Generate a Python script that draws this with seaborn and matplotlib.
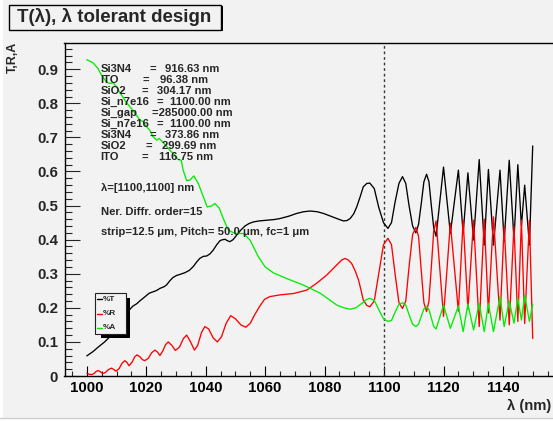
import matplotlib
matplotlib.use('Agg')
import matplotlib.pyplot as plt
import seaborn as sns
from matplotlib.patches import Rectangle
from matplotlib.lines import Line2D
from matplotlib.ticker import MultipleLocator, FuncFormatter

# ---------------- data ----------------
lam_T = [1000, 1002, 1004, 1006, 1007.5, 1009, 1011, 1012.5, 1013.9, 1015.5, 1016.8, 1017.8,
         1019.5, 1021, 1022.3, 1023.5, 1024.6, 1026, 1026.8, 1028, 1029, 1030.2, 1031.3, 1032.3,
         1033, 1034.5, 1035.8, 1037, 1038, 1039.2, 1040.3, 1041.4, 1042.5, 1043.7, 1044.8,
         1045.7, 1046.5, 1047.3, 1048.1, 1049.2, 1050.4, 1051.8, 1053.2, 1054.5, 1056, 1058,
         1060.5, 1063, 1065, 1068, 1070.6, 1073, 1075.1, 1077.5, 1079.6, 1082, 1084.1, 1086.3,
         1087.5, 1088.6, 1089.8, 1090.8, 1092, 1093, 1094.2, 1095.2, 1096.7, 1098.2, 1099.8,
         1101.3, 1102.5, 1103.7, 1105, 1106.2, 1107.3, 1108.4, 1109.6, 1110.7, 1111.6, 1112.5,
         1113.4, 1114.3, 1115.1, 1115.9, 1116.7, 1117.5, 1120, 1122.3, 1125, 1126.6, 1128.2,
         1130.1, 1132, 1133.7, 1135.1, 1136.8, 1139, 1140.4, 1142.1, 1143.7, 1145, 1146.2,
         1147.3, 1148.9, 1150]
T_vals = [0.059, 0.071, 0.086, 0.100, 0.113, 0.128, 0.146, 0.162, 0.190, 0.205, 0.212, 0.220,
          0.232, 0.243, 0.247, 0.251, 0.257, 0.262, 0.267, 0.280, 0.289, 0.295, 0.298, 0.301,
          0.303, 0.310, 0.321, 0.335, 0.345, 0.351, 0.352, 0.358, 0.369, 0.385, 0.397,
          0.400, 0.401, 0.397, 0.394, 0.400, 0.413, 0.428, 0.440, 0.447, 0.452, 0.455,
          0.457, 0.459, 0.462, 0.469, 0.477, 0.482, 0.484, 0.482, 0.477, 0.469, 0.462, 0.455,
          0.456, 0.462, 0.476, 0.496, 0.527, 0.555, 0.565, 0.566, 0.550, 0.495, 0.450,
          0.433, 0.450, 0.510, 0.565, 0.585, 0.565, 0.500, 0.440, 0.420, 0.445, 0.505,
          0.570, 0.592, 0.570, 0.500, 0.435, 0.410, 0.613, 0.418, 0.604, 0.418, 0.596,
          0.399, 0.635, 0.384, 0.606, 0.384, 0.604, 0.394, 0.633, 0.400, 0.620, 0.440,
          0.560, 0.384, 0.675]

lam_R = [1000, 1000.8, 1001.6, 1002.4, 1003.1, 1003.8, 1004.5, 1005.3, 1006.2, 1007.3, 1008.3,
         1009.1, 1009.8, 1010.9, 1011.9, 1012.8, 1013.5, 1014.2, 1015.2, 1016.1, 1016.9, 1017.8,
         1018.7, 1019.5, 1020.7, 1021.8, 1022.9, 1023.8, 1024.6, 1025.6, 1026.5, 1027.4, 1028.6,
         1029.8, 1031.2, 1032.5, 1033.6, 1034.9, 1036.2, 1037.3, 1038.6, 1039.7, 1041, 1042.5,
         1043.9, 1045.3, 1046.9, 1048.4, 1050, 1051.8, 1053.5, 1055, 1056.5, 1058.2, 1059.8,
         1061.6, 1065, 1069.5, 1074, 1077.3, 1080.7, 1084.1, 1085.7, 1086.9, 1088, 1089.1,
         1090.3, 1091.4, 1092.3, 1093, 1094.2, 1095.2, 1096.7, 1098.2, 1099.8, 1101.3, 1102.5,
         1103.7, 1105, 1106.2, 1107.3, 1108.4, 1109.6, 1110.7, 1111.6, 1112.5, 1113.4, 1114.3,
         1115.1, 1115.9, 1116.7, 1117.5, 1120, 1122.3, 1125, 1126.6, 1128.2, 1130.1, 1132,
         1133.7, 1135.1, 1136.8, 1139, 1140.4, 1142.1, 1143.7, 1145, 1146.2, 1147.3, 1148.9, 1150]
R_vals = [0.008, 0.005, 0.004, 0.007, 0.013, 0.016, 0.013, 0.007, 0.010, 0.019, 0.023,
          0.019, 0.014, 0.022, 0.038, 0.045, 0.040, 0.030, 0.040, 0.056, 0.062, 0.057,
          0.048, 0.045, 0.052, 0.068, 0.076, 0.070, 0.060, 0.074, 0.092, 0.100, 0.090,
          0.075, 0.085, 0.110, 0.120, 0.100, 0.076, 0.090, 0.128, 0.145, 0.138, 0.112,
          0.100, 0.115, 0.155, 0.177, 0.168, 0.150, 0.143, 0.155, 0.180, 0.205, 0.225,
          0.233, 0.238, 0.242, 0.252, 0.272, 0.296, 0.326, 0.340, 0.345, 0.340, 0.330,
          0.308, 0.282, 0.250, 0.223, 0.207, 0.203, 0.220, 0.300, 0.385, 0.404, 0.385,
          0.300, 0.215, 0.198, 0.220, 0.320, 0.415, 0.436, 0.410, 0.310, 0.215, 0.189,
          0.220, 0.320, 0.425, 0.455, 0.175, 0.448, 0.190, 0.457, 0.195, 0.457, 0.145,
          0.460, 0.185, 0.467, 0.164, 0.440, 0.150, 0.440, 0.160, 0.457, 0.154, 0.457, 0.110]

lam_A = [1000, 1002.1, 1003.8, 1004.6, 1005.5, 1006.6, 1007.7, 1008.9, 1010, 1011.7, 1013.4,
         1015, 1016.7, 1017.8, 1019, 1019.9, 1021.2, 1022.3, 1023.5, 1024.3, 1025.5, 1026.8,
         1027.9, 1029.6, 1030.7, 1031.8, 1032.4, 1033.6, 1034.7, 1036, 1037.5, 1039.2, 1040.5,
         1042, 1043.1, 1044.6, 1045.9, 1047.6, 1049.9, 1052.7, 1054.9, 1057.7, 1060, 1062.7,
         1067.2, 1072.8, 1078.5, 1084.1, 1086.5, 1088.6, 1090.5, 1092.5, 1094, 1095.2, 1096.7,
         1098.2, 1099.8, 1101.3, 1102.5, 1103.7, 1105, 1106.2, 1107.3, 1108.4, 1109.6, 1110.7,
         1111.6, 1112.5, 1113.4, 1114.3, 1115.1, 1115.9, 1116.7, 1117.5, 1120, 1122.3, 1125,
         1126.6, 1128.2, 1130.1, 1132, 1133.7, 1135.1, 1136.8, 1139, 1140.4, 1142.1, 1143.7,
         1145, 1146.2, 1147.3, 1148.9, 1150]
A_vals = [0.928, 0.919, 0.902, 0.888, 0.876, 0.863, 0.858, 0.860, 0.848, 0.824, 0.801,
          0.785, 0.765, 0.751, 0.746, 0.733, 0.721, 0.702, 0.692, 0.697, 0.687, 0.674,
          0.663, 0.648, 0.635, 0.633, 0.604, 0.573, 0.575, 0.587, 0.565, 0.526, 0.496,
          0.499, 0.506, 0.492, 0.462, 0.428, 0.418, 0.418, 0.399, 0.350, 0.320, 0.303,
          0.286, 0.267, 0.243, 0.208, 0.200, 0.196, 0.200, 0.213, 0.224, 0.228, 0.222,
          0.195, 0.168, 0.160, 0.163, 0.187, 0.210, 0.215, 0.208, 0.180, 0.152, 0.145,
          0.152, 0.175, 0.197, 0.203, 0.195, 0.170, 0.145, 0.138, 0.208, 0.140, 0.205,
          0.130, 0.211, 0.135, 0.213, 0.130, 0.213, 0.130, 0.233, 0.145, 0.220, 0.155,
          0.228, 0.164, 0.237, 0.160, 0.211]

series_names = ['%T', '%R', '%A']
series_colors = ['#000000', '#ff0000', '#00ee00']

layer_names = ['Si3N4', 'ITO', 'SiO2', 'Si_n7e16', 'Si_gap', 'Si_n7e16', 'Si3N4', 'SiO2', 'ITO']
layer_values = ['916.63 nm', '96.38 nm', '304.17 nm', '1100.00 nm', '285000.00 nm',
                '1100.00 nm', '373.86 nm', '299.69 nm', '116.75 nm']
info_lines = ['λ=[1100,1100] nm', 'Ner. Diffr. order=15',
              'strip=12.5 μm, Pitch= 50.0 μm, fc=1 μm']
title_text = 'T(λ), λ tolerant design'

# ---------------- style ----------------
sns.set_theme(style='ticks')
plt.rcParams['font.family'] = ['Liberation Sans', 'DejaVu Sans']
plt.rcParams['font.weight'] = 'bold'
plt.rcParams['axes.linewidth'] = 1.0

W, H = 553, 421
BG = '#f2f2f2'
fig = plt.figure(figsize=(W / 100, H / 100), dpi=100)
fig.patch.set_facecolor(BG)


def fx(px):
    return px / W


def fy(py):
    return 1 - py / H


ax = fig.add_axes([fx(64.5), fy(376), (555 - 64.5) / W, (376 - 43) / H])
ax.set_facecolor(BG)

for lam, vals, col in [(lam_T, T_vals, series_colors[0]),
                       (lam_R, R_vals, series_colors[1]),
                       (lam_A, A_vals, series_colors[2])]:
    sns.lineplot(x=lam, y=vals, ax=ax, color=col, lw=0.95, estimator=None, sort=False)

ax.set_xlim(992.5, 1157.5)
ax.set_ylim(0, 0.977)
ax.axvline(1100, color='#3a3a3a', lw=1.0, ls=(0, (2, 2)), zorder=1)

ax.xaxis.set_major_locator(MultipleLocator(20))
ax.xaxis.set_minor_locator(MultipleLocator(5))
ax.yaxis.set_major_locator(MultipleLocator(0.1))
ax.yaxis.set_minor_locator(MultipleLocator(0.02))
ax.yaxis.set_major_formatter(FuncFormatter(lambda v, p: '0' if abs(v) < 1e-9 else f'{v:.1f}'))
ax.xaxis.set_major_formatter(FuncFormatter(lambda v, p: f'{v:.0f}'))

ax.tick_params(axis='x', which='major', direction='in', length=7.2, width=0.8,
               labelsize=10.8, pad=3.5, top=False, bottom=True, colors='black')
ax.tick_params(axis='x', which='minor', direction='in', length=3.6, width=0.8,
               top=False, bottom=True)
ax.tick_params(axis='y', which='major', direction='in', length=10.5, width=0.8,
               labelsize=10.8, pad=4.5, right=False, left=True)
ax.tick_params(axis='y', which='minor', direction='in', length=5.2, width=0.8,
               right=False, left=True)
for lbl in ax.get_xticklabels() + ax.get_yticklabels():
    lbl.set_fontweight('bold')
for s in ax.spines.values():
    s.set_color('black')
    s.set_linewidth(1.0)
ax.set_xlabel('')
ax.set_ylabel('')

# axis titles
fig.text(fx(551), fy(406), 'λ (nm)', ha='right', va='center', fontsize=10.6, fontweight='bold')
fig.text(fx(12.5), fy(42), 'T,R,A', ha='center', va='top', rotation=90, fontsize=9.0,
         fontweight='bold')

# title box with shadow
fig.patches.append(Rectangle((fx(10), fy(31)), (222 - 9) / W, (31 - 6) / H,
                             transform=fig.transFigure, facecolor='black', edgecolor='none',
                             zorder=5))
fig.patches.append(Rectangle((fx(8.5), fy(29.5)), (220.5 - 8.5) / W, (29.5 - 4.5) / H,
                             transform=fig.transFigure, facecolor=BG, edgecolor='black',
                             lw=1.0, zorder=6))
fig.text(fx(114.5), fy(17.5), title_text, ha='center', va='center', fontsize=13.5,
         fontweight='bold', zorder=7)

# layer annotations
eq_x = [150, 142.7, 141.7, 156.7, 151.7, 156.7, 149.3, 146, 141.7]
val_x = [165, 160, 156.7, 170, None, 170, 165, 161.7, 159]
for i, (nm, vv) in enumerate(zip(layer_names, layer_values)):
    yb = 67.5 + i * 11.1 + 4.0
    fig.text(fx(100.7), fy(yb), nm, ha='left', va='baseline', fontsize=8.1, fontweight='bold')
    if val_x[i] is None:
        fig.text(fx(eq_x[i]), fy(yb), '=' + vv, ha='left', va='baseline', fontsize=8.1,
                 fontweight='bold')
    else:
        fig.text(fx(eq_x[i]), fy(yb), '=', ha='left', va='baseline', fontsize=8.1,
                 fontweight='bold')
        fig.text(fx(val_x[i]), fy(yb), vv, ha='left', va='baseline', fontsize=8.1,
                 fontweight='bold')
for yc, t in zip([186.7, 211, 231], info_lines):
    fig.text(fx(100.7), fy(yc + 4.0), t, ha='left', va='baseline', fontsize=8.1,
             fontweight='bold')

# legend box (ROOT style with shadow)
fig.patches.append(Rectangle((fx(100.5), fy(337.5)), (130 - 100.5) / W, (337.5 - 298) / H,
                             transform=fig.transFigure, facecolor='black', edgecolor='none',
                             zorder=5))
fig.patches.append(Rectangle((fx(95), fy(334)), (126 - 95) / W, (334 - 293) / H,
                             transform=fig.transFigure, facecolor=BG, edgecolor='#222222',
                             lw=0.8, zorder=6))
for yc, name, col in zip([299.3, 313.5, 327.8], series_names, series_colors):
    fig.lines.append(Line2D([fx(96.7), fx(102)], [fy(yc), fy(yc)], transform=fig.transFigure,
                            color=col, lw=1.0, zorder=7))
    fig.text(fx(102.3), fy(yc), name, ha='left', va='center', fontsize=5.9,
             fontweight='bold', zorder=7)

# canvas border
fig.patches.append(Rectangle((0, 0), fx(2.5), 1, transform=fig.transFigure,
                             facecolor='white', edgecolor='none', zorder=0))
fig.patches.append(Rectangle((0, 0), 1, 2.5 / H, transform=fig.transFigure,
                             facecolor='white', edgecolor='none', zorder=0))
fig.lines.append(Line2D([0, 1], [fy(418.3), fy(418.3)], transform=fig.transFigure,
                        color='#cfcfcf', lw=1.0, zorder=1))

fig.savefig('out.png', dpi=100, facecolor=BG)
